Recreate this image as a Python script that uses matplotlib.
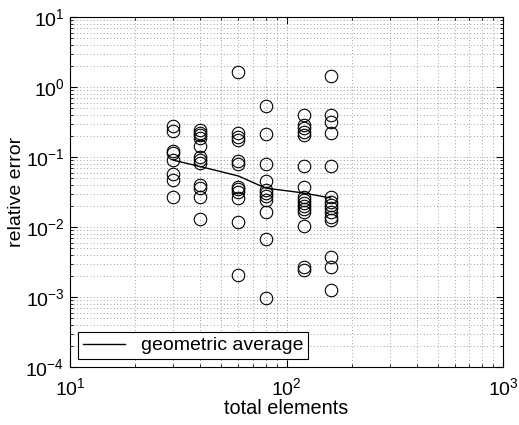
import matplotlib
matplotlib.use("Agg")
import matplotlib.pyplot as plt
import numpy as np

# Sample sizes (total elements) and the relative errors seen at each one.
elements = [30, 40, 60, 80, 120, 160]
errors = {
	30: [0.277, 0.235, 0.123, 0.114, 0.0906, 0.057, 0.047, 0.0268],
	40: [0.243, 0.222, 0.206, 0.185, 0.144, 0.101, 0.0906, 0.081,
		0.0398, 0.0357, 0.0266, 0.0129],
	60: [1.65, 0.218, 0.195, 0.175, 0.0877, 0.0794, 0.0377, 0.0346,
		0.0319, 0.0257, 0.0119, 0.00206],
	80: [0.54, 0.213, 0.079, 0.0447, 0.0338, 0.0306, 0.0273, 0.0247,
		0.0166, 0.00674, 0.00096],
	120: [0.398, 0.286, 0.257, 0.23, 0.206, 0.0744, 0.0377, 0.0268,
		0.0243, 0.022, 0.020, 0.0181, 0.0164, 0.0103, 0.00266, 0.00247],
	160: [1.44, 0.398, 0.319, 0.218, 0.0744, 0.0271, 0.023, 0.0206,
		0.0185, 0.0166, 0.014, 0.0126, 0.00377, 0.00266, 0.00126],
}
# Geometric average line.
geo_avg = [0.090, 0.073, 0.0535, 0.036, 0.0306, 0.026]

plt.rcParams["font.family"] = ["Liberation Sans", "DejaVu Sans"]
plt.rcParams["font.size"] = 14
plt.rcParams["mathtext.fontset"] = "custom"
plt.rcParams["mathtext.rm"] = "Liberation Sans"
plt.rcParams["mathtext.it"] = "Liberation Sans:italic"
plt.rcParams["mathtext.bf"] = "Liberation Sans:bold"

fig = plt.figure(figsize=(5.19, 4.25), dpi=100)
ax = fig.add_axes([70 / 519, 1 - 367 / 425, 433 / 519, 350 / 425])

# Scatter of all runs.
for n in elements:
	vals = errors[n]
	ax.plot([n] * len(vals), vals, "o", markersize=9, markerfacecolor="none",
		markeredgecolor="black", markeredgewidth=0.8, linestyle="none")

# Geometric average.
ax.plot(elements, geo_avg, "k-", linewidth=1.0, label="geometric average")

ax.set_xscale("log")
ax.set_yscale("log")
ax.set_xlim(10, 1000)
ax.set_ylim(1e-4, 10)
ax.set_xticks([10, 100, 1000])
ax.set_yticks([1e-4, 1e-3, 1e-2, 1e-1, 1, 10])

ax.grid(True, which="both", linestyle=(0, (1, 3)), color="0.5", linewidth=0.6)
ax.tick_params(which="both", direction="in", top=True, right=True)
ax.tick_params(which="major", length=5)
ax.tick_params(which="minor", length=2.5)
ax.tick_params(axis="x", which="major", pad=7)
ax.tick_params(axis="y", which="major", pad=4)
for spine in ax.spines.values():
	spine.set_linewidth(0.8)

ax.set_xlabel("total elements", labelpad=0, fontsize=14.3)
ax.set_ylabel("relative error", labelpad=0, fontsize=14)

leg = ax.legend(loc="lower left", fancybox=False, framealpha=1,
	edgecolor="black", borderaxespad=0.4, handlelength=2.2, borderpad=0.25,
	fontsize=14)
leg.get_frame().set_linewidth(0.8)

fig.savefig("out.png", dpi=100)
